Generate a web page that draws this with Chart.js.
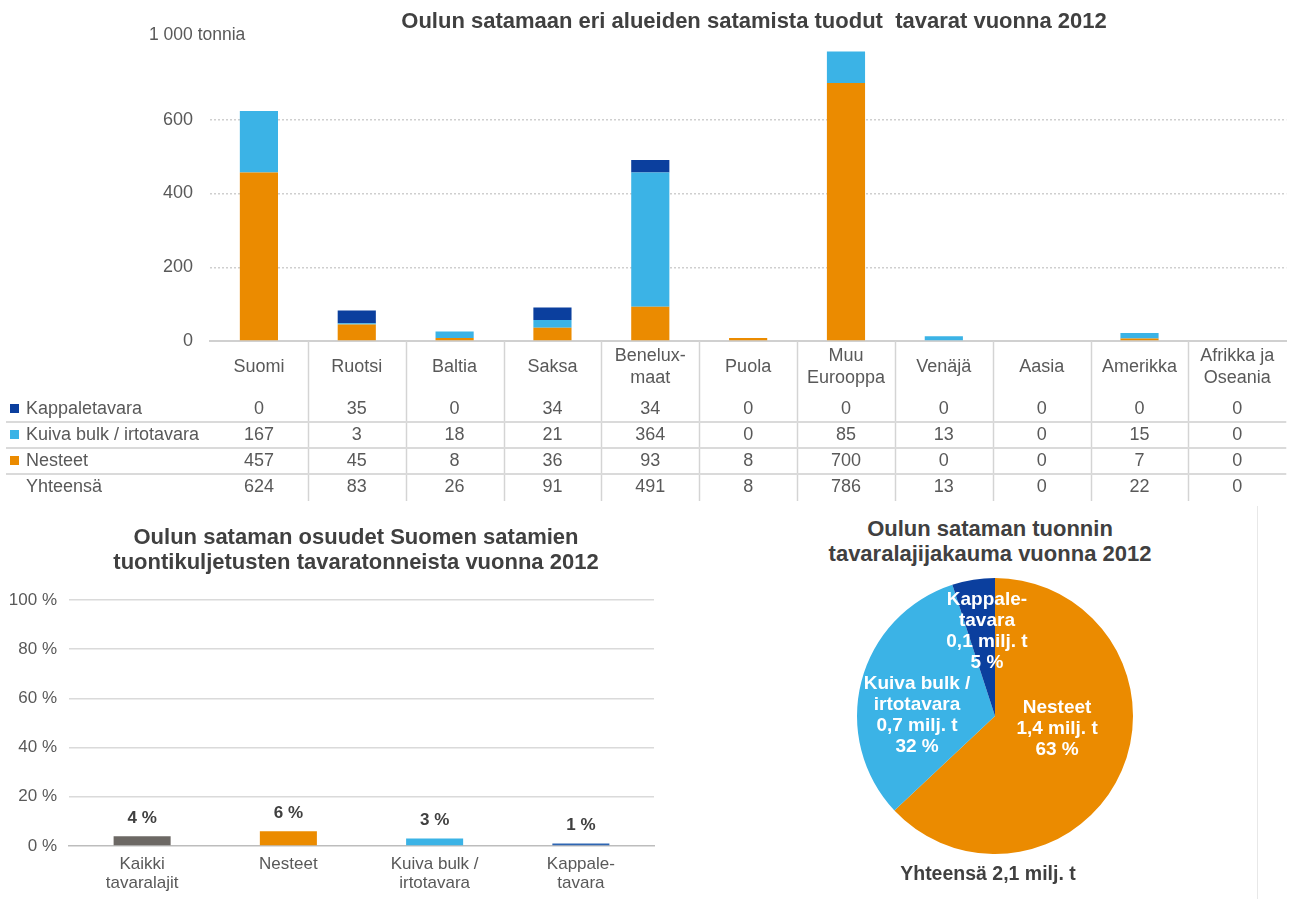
<!DOCTYPE html>
<html lang="fi">
<head>
<meta charset="utf-8">
<title>Oulun satama 2012</title>
<script src="https://cdn.jsdelivr.net/npm/chart.js@4.4.1/dist/chart.umd.min.js"></script>
<style>
  body { margin: 0; background: #fff; font-family: "Liberation Sans", Arial, sans-serif; }
  #sivu { position: relative; width: 1290px; height: 899px; overflow: hidden; }
  .laatikko { position: absolute; }
  .otsikko { position: absolute; font-weight: bold; color: #404040; white-space: pre; text-align: center; transform: translateX(-50%); }
  .yksikko { position: absolute; font-size: 17.5px; line-height: 20px; color: #595959; white-space: nowrap; }
  .reuna { position: absolute; left: 1257px; top: 506px; width: 0; height: 393px; border-left: 1px solid #e8e8e8; }
</style>
</head>
<body>
<div id="sivu">
  <div class="laatikko" style="left:0; top:0; width:1290px; height:510px;"><canvas id="alueet"></canvas></div>
  <div class="laatikko" style="left:0; top:510px; width:660px; height:389px;"><canvas id="osuudet"></canvas></div>
  <div class="laatikko" style="left:845px; top:566px; width:300px; height:300px;"><canvas id="lajit"></canvas></div>

  <div class="otsikko" style="left:754px; top:8px; font-size:22px; line-height:26px;">Oulun satamaan eri alueiden satamista tuodut  tavarat vuonna 2012</div>
  <div class="yksikko" style="left:149px; top:24px;">1 000 tonnia</div>
  <div class="otsikko" style="left:356px; top:524px; font-size:22px; line-height:25px;">Oulun sataman osuudet Suomen satamien
tuontikuljetusten tavaratonneista vuonna 2012</div>
  <div class="otsikko" style="left:990px; top:516px; font-size:22px; line-height:25px;">Oulun sataman tuonnin
tavaralajijakauma vuonna 2012</div>
  <div class="otsikko" style="left:988px; top:862px; font-size:19.5px; line-height:22px;">Yhteensä 2,1 milj. t</div>
  <div class="reuna"></div>
</div>

<script>
// alueittain tuodut tavarat, 1 000 tonnia
const alueet = ['Suomi', 'Ruotsi', 'Baltia', 'Saksa', ['Benelux-', 'maat'], 'Puola', ['Muu', 'Eurooppa'], 'Venäjä', 'Aasia', 'Amerikka', ['Afrikka ja', 'Oseania']];
const kappaletavara = [0, 35, 0, 34, 34, 0, 0, 0, 0, 0, 0];
const kuivabulk = [167, 3, 18, 21, 364, 0, 85, 13, 0, 15, 0];
const nesteet = [457, 45, 8, 36, 93, 8, 700, 0, 0, 7, 0];
const yhteensa = [624, 83, 26, 91, 491, 8, 786, 13, 0, 22, 0];
const tonniTicks = [0, 200, 400, 600];

// Oulun osuus Suomen satamien tuonnista, %
const osuusNimet = [['Kaikki', 'tavaralajit'], 'Nesteet', ['Kuiva bulk /', 'irtotavara'], ['Kappale-', 'tavara']];
const osuudet = [4, 6, 3, 1];
const osuusTicks = [0, 20, 40, 60, 80, 100];

// tuonnin tavaralajijakauma
const lajit = ['Nesteet', 'Kuiva bulk / irtotavara', 'Kappaletavara'];
const lajiTekstit = [['Nesteet'], ['Kuiva bulk /', 'irtotavara'], ['Kappale-', 'tavara']];
const lajiOsuus = [63, 32, 5];
const lajiMiljT = [1.4, 0.7, 0.1];

const ORANSSI = '#EB8B00';
const VAALEA = '#3BB3E6';
const TUMMA = '#0B3F9E';
const HARMAA = '#6C6864';
const FONTTI = '"Liberation Sans", Arial, sans-serif';

Chart.defaults.font.family = FONTTI;
Chart.defaults.color = '#595959';
Chart.defaults.animation = false;

// datataulukko pylväiden alle
const taulukko = {
  id: 'taulukko',
  afterDraw(chart) {
    const ctx = chart.ctx;
    const x = chart.scales.x;
    const ala = chart.chartArea.bottom;
    const rivit = [
      { nimi: 'Kappaletavara', arvot: kappaletavara, vari: TUMMA },
      { nimi: 'Kuiva bulk / irtotavara', arvot: kuivabulk, vari: VAALEA },
      { nimi: 'Nesteet', arvot: nesteet, vari: ORANSSI },
      { nimi: 'Yhteensä', arvot: yhteensa, vari: null }
    ];
    const rivi0 = ala + 68, riviK = 26;
    ctx.save();
    ctx.strokeStyle = '#d4d4d4';
    ctx.lineWidth = 1.5;
    for (let i = 1; i < alueet.length; i++) {
      const xr = Math.round((x.getPixelForValue(i - 1) + x.getPixelForValue(i)) / 2) + 0.5;
      ctx.beginPath();
      ctx.moveTo(xr, ala);
      ctx.lineTo(xr, rivi0 + riviK * 3 + 14);
      ctx.stroke();
    }
    ctx.strokeStyle = '#dadada';
    ctx.lineWidth = 2;
    for (let r = 0; r < 3; r++) {
      const y = rivi0 + riviK * r + riviK / 2;
      ctx.beginPath();
      ctx.moveTo(6, y);
      ctx.lineTo(chart.chartArea.right, y);
      ctx.stroke();
    }
    ctx.font = '18px ' + FONTTI;
    ctx.textBaseline = 'middle';
    rivit.forEach((rivi, r) => {
      const y = rivi0 + riviK * r;
      if (rivi.vari) {
        ctx.fillStyle = rivi.vari;
        ctx.fillRect(10, y - 5, 9, 9);
      }
      ctx.fillStyle = '#595959';
      ctx.textAlign = 'left';
      ctx.fillText(rivi.nimi, 26, y);
      ctx.textAlign = 'center';
      rivi.arvot.forEach((v, i) => ctx.fillText(String(v), x.getPixelForValue(i), y));
    });
    ctx.restore();
  }
};

new Chart(document.getElementById('alueet'), {
  type: 'bar',
  data: {
    labels: alueet,
    datasets: [
      { label: 'Nesteet', data: nesteet, backgroundColor: ORANSSI },
      { label: 'Kuiva bulk / irtotavara', data: kuivabulk, backgroundColor: VAALEA },
      { label: 'Kappaletavara', data: kappaletavara, backgroundColor: TUMMA }
    ]
  },
  options: {
    responsive: true,
    maintainAspectRatio: false,
    layout: { padding: { top: 46, right: 3, left: 0, bottom: 0 } },
    datasets: { bar: { barPercentage: 0.39, categoryPercentage: 1 } },
    plugins: { legend: { display: false }, tooltip: { enabled: false } },
    scales: {
      x: {
        stacked: true,
        grid: { display: false, drawTicks: false },
        border: { display: true, color: '#d0d0d0', width: 2 },
        ticks: { font: { size: 18, lineHeight: 1.17 }, padding: 15.5, crossAlign: 'center', maxRotation: 0, autoSkip: false },
        afterFit(s) { s.height = 169; }
      },
      y: {
        stacked: true,
        min: 0,
        max: 800,
        afterBuildTicks(s) { s.ticks = tonniTicks.map(v => ({ value: v })); },
        grid: {
          color: c => c.tick && c.tick.value === 0 ? 'rgba(0,0,0,0)' : '#cfcfcf',
          lineWidth: 1.5,
          drawTicks: false
        },
        border: { display: false, dash: [2, 2] },
        ticks: { font: { size: 18 }, padding: 17 },
        afterFit(s) { s.width = 210; }
      }
    }
  },
  plugins: [taulukko]
});

// prosenttiarvot pylväiden yläpuolelle
const arvoTekstit = {
  id: 'arvoTekstit',
  afterDatasetsDraw(chart) {
    const ctx = chart.ctx;
    ctx.save();
    ctx.font = 'bold 17px ' + FONTTI;
    ctx.fillStyle = '#404040';
    ctx.textAlign = 'center';
    ctx.textBaseline = 'middle';
    chart.getDatasetMeta(0).data.forEach((bar, i) => {
      ctx.fillText(osuudet[i] + ' %', bar.x, bar.y - 18);
    });
    ctx.restore();
  }
};

new Chart(document.getElementById('osuudet'), {
  type: 'bar',
  data: {
    labels: osuusNimet,
    datasets: [{
      data: osuudet,
      backgroundColor: [HARMAA, ORANSSI, VAALEA, '#2F66B3']
    }]
  },
  options: {
    responsive: true,
    maintainAspectRatio: false,
    layout: { padding: { top: 90, right: 6, left: 0, bottom: 0 } },
    datasets: { bar: { barPercentage: 0.39, categoryPercentage: 1 } },
    plugins: { legend: { display: false }, tooltip: { enabled: false } },
    scales: {
      x: {
        grid: { display: false, drawTicks: false },
        border: { display: true, color: '#bdbdbd', width: 1.5 },
        ticks: { font: { size: 17, lineHeight: 1.12 }, padding: 9, maxRotation: 0, autoSkip: false },
        afterFit(s) { s.height = 53; }
      },
      y: {
        min: 0,
        max: 100,
        afterBuildTicks(s) { s.ticks = osuusTicks.map(v => ({ value: v })); },
        grid: {
          color: c => c.tick && c.tick.value === 0 ? 'rgba(0,0,0,0)' : '#dadada',
          lineWidth: 1.5,
          drawTicks: false
        },
        border: { display: false },
        ticks: { font: { size: 17 }, padding: 12, callback: v => v + ' %' },
        afterFit(s) { s.width = 69; }
      }
    }
  },
  plugins: [arvoTekstit]
});

// sektorien tekstit: [osuus sektorin kulmasta, osuus säteestä]
const tekstiPaikka = [[0.45, 0.46], [0.38, 0.565], [0.7, 0.62]];
const pilkku = v => v.toFixed(1).replace('.', ',');

const sektoriTekstit = {
  id: 'sektoriTekstit',
  afterDatasetsDraw(chart) {
    const ctx = chart.ctx;
    ctx.save();
    ctx.font = 'bold 19px ' + FONTTI;
    ctx.fillStyle = '#ffffff';
    ctx.textAlign = 'center';
    ctx.textBaseline = 'middle';
    chart.getDatasetMeta(0).data.forEach((arc, i) => {
      const p = arc.getProps(['x', 'y', 'startAngle', 'endAngle', 'outerRadius'], true);
      const a = p.startAngle + (p.endAngle - p.startAngle) * tekstiPaikka[i][0];
      const r = p.outerRadius * tekstiPaikka[i][1];
      const cx = p.x + Math.cos(a) * r;
      const cy = p.y + Math.sin(a) * r;
      const rivit = [...lajiTekstit[i], pilkku(lajiMiljT[i]) + ' milj. t', lajiOsuus[i] + ' %'];
      rivit.forEach((t, k) => ctx.fillText(t, cx, cy + (k - (rivit.length - 1) / 2) * 21));
    });
    ctx.restore();
  }
};

new Chart(document.getElementById('lajit'), {
  type: 'pie',
  data: {
    labels: lajit,
    datasets: [{
      data: lajiOsuus,
      backgroundColor: [ORANSSI, VAALEA, TUMMA],
      borderWidth: 0
    }]
  },
  options: {
    responsive: true,
    maintainAspectRatio: false,
    layout: { padding: 12 },
    plugins: { legend: { display: false }, tooltip: { enabled: false } }
  },
  plugins: [sektoriTekstit]
});
</script>
</body>
</html>
